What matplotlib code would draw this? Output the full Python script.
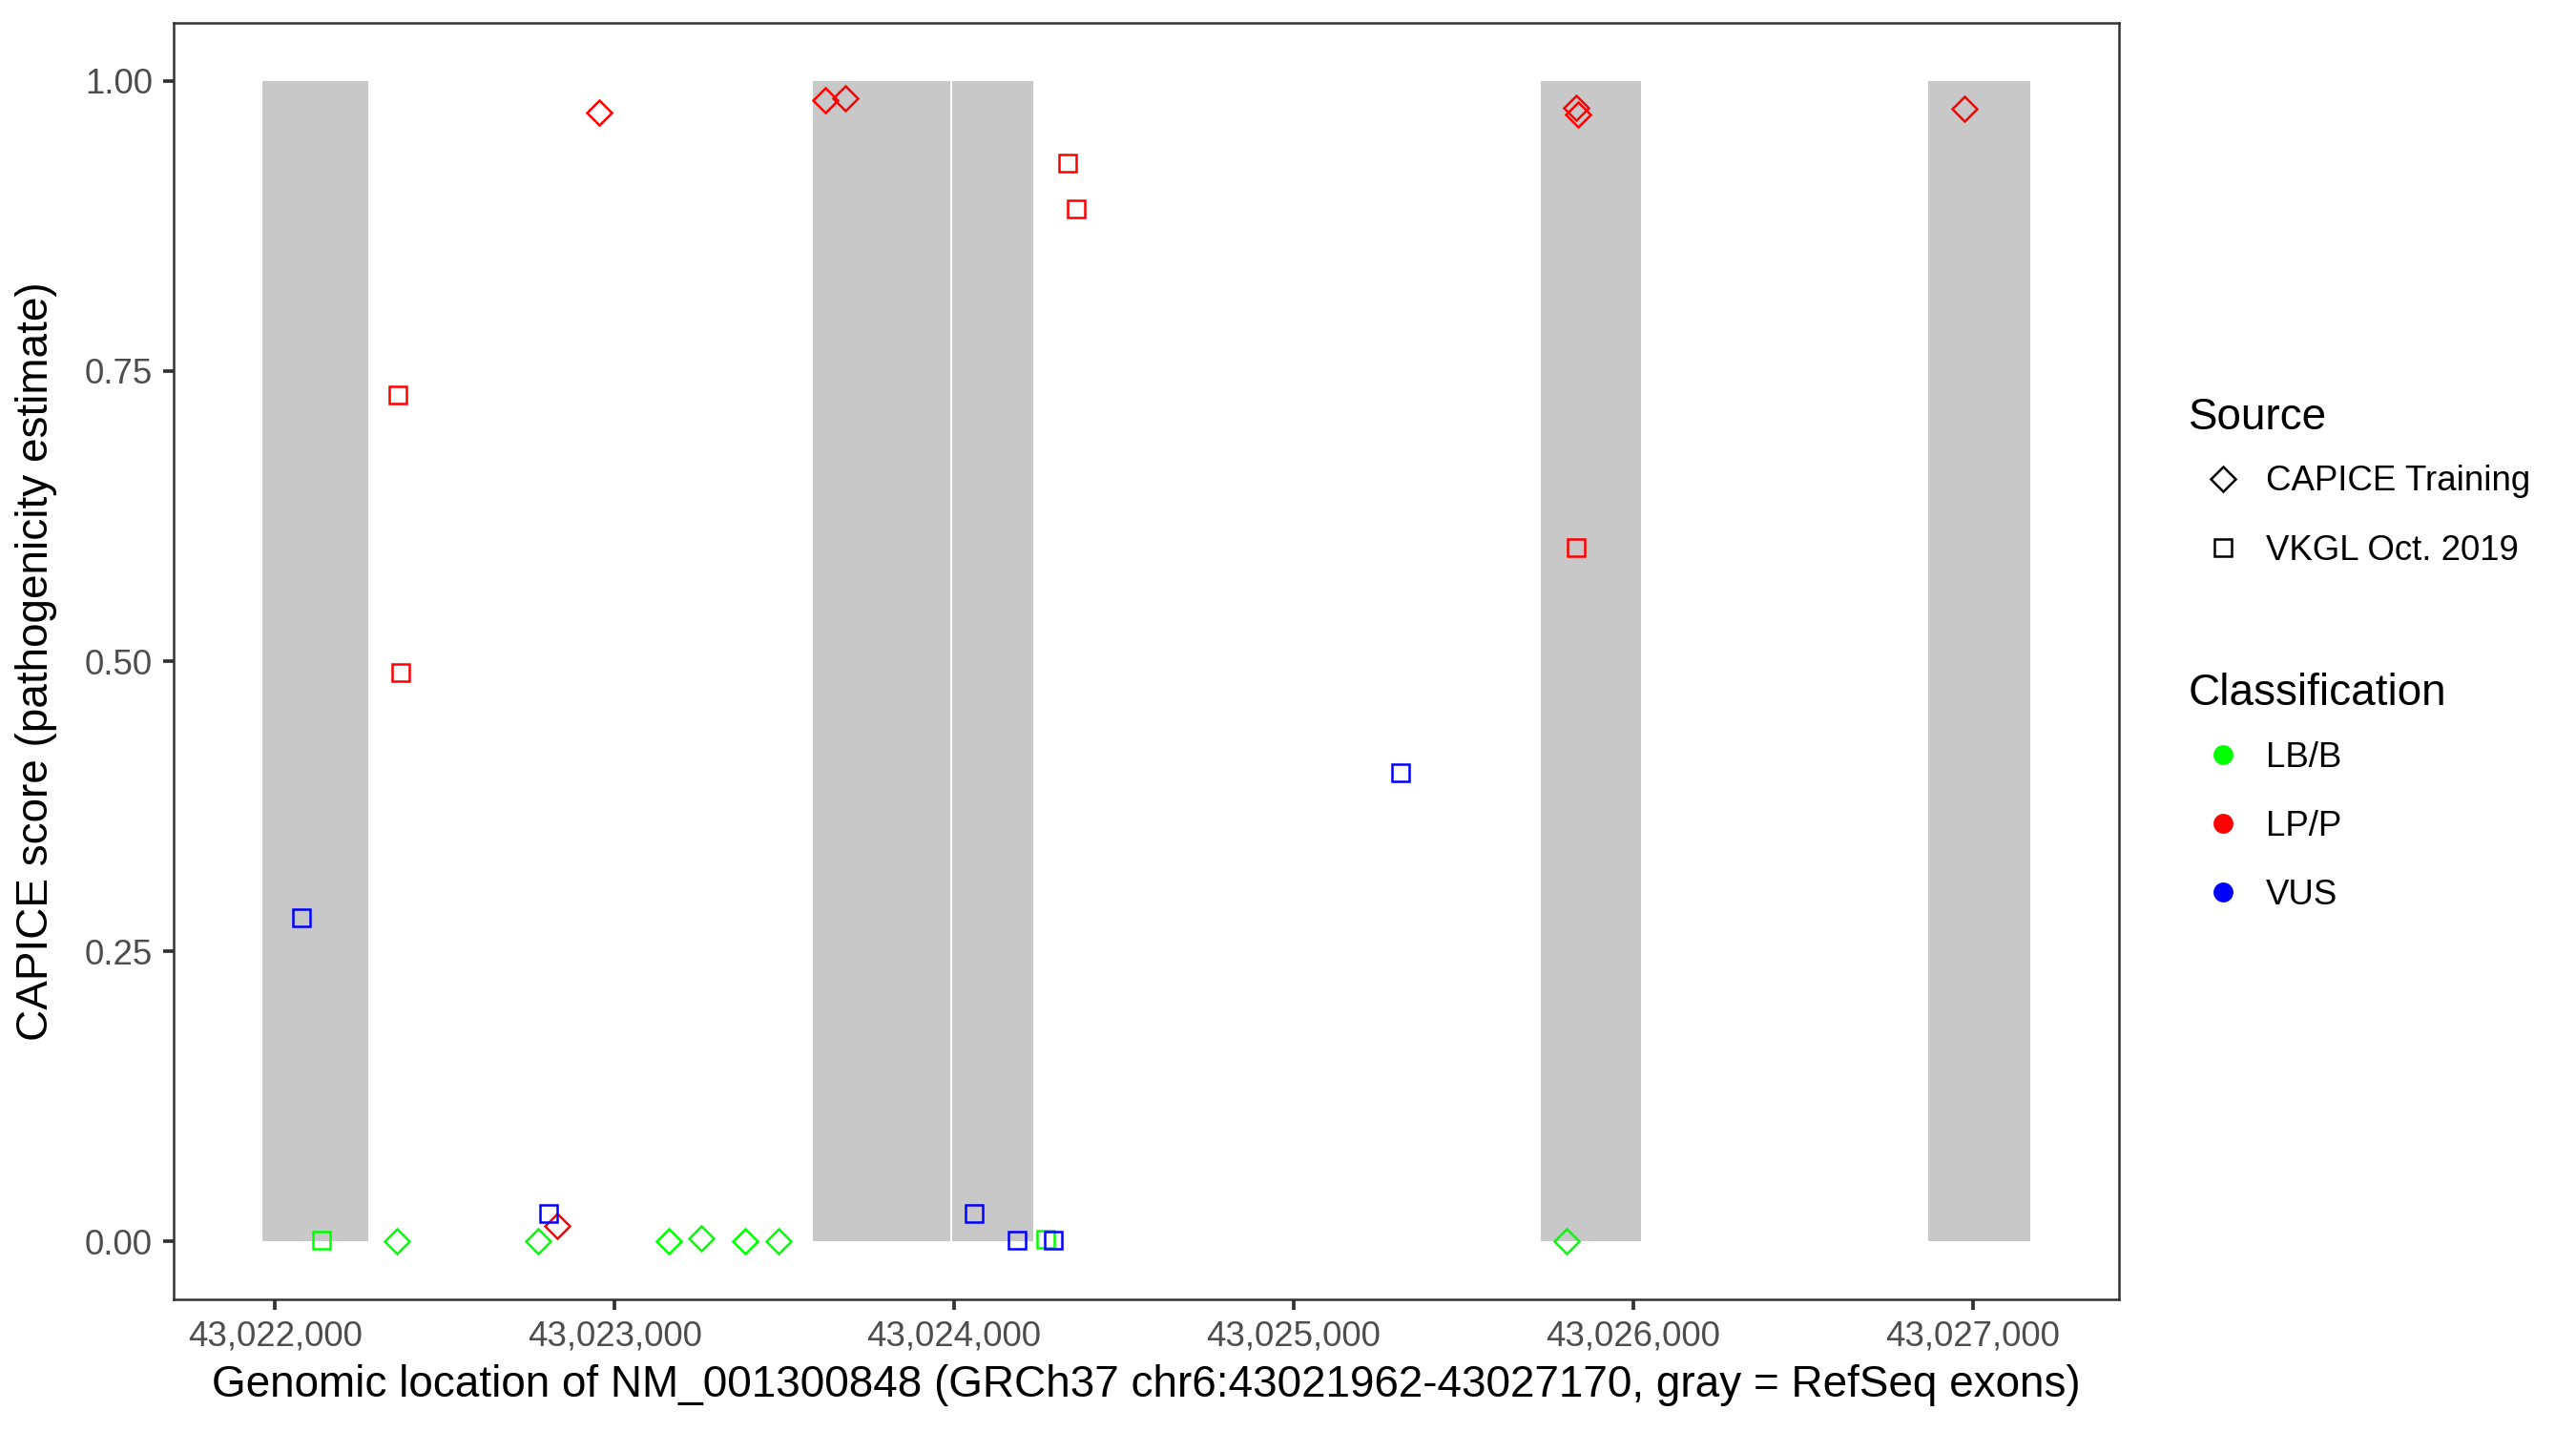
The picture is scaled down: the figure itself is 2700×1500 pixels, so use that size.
import matplotlib
matplotlib.use("Agg")
import matplotlib.pyplot as plt
from matplotlib.lines import Line2D
import numpy as np

plt.rcParams['font.family'] = ['Liberation Sans', 'DejaVu Sans']

# ---------------- data ----------------
gene_start, gene_end = 43021962, 43027170
exon_starts = [43021962, 43023585, 43023994, 43025727, 43026868]
exon_ends   = [43022274, 43023988, 43024233, 43026024, 43027170]

# CAPICE training variants (diamonds)
capice_pos   = [43022359, 43022774, 43023161, 43023255, 43023384, 43023482, 43025805,
                43022830, 43022955, 43023621, 43023680, 43025833, 43025838, 43026974]
capice_score = [0.000, 0.000, 0.000, 0.003, 0.000, 0.000, 0.000,
                0.0135, 0.973, 0.983, 0.985, 0.977, 0.971, 0.976]
capice_class = ['LB/B'] * 7 + ['LP/P'] * 7

# VKGL Oct. 2019 variants (squares)
vkgl_pos   = [43022138, 43024270,
              43022361, 43022369, 43024334, 43024359, 43025833,
              43022079, 43022805, 43024060, 43024184, 43024293, 43025315]
vkgl_score = [0.001, 0.002,
              0.729, 0.490, 0.929, 0.890, 0.598,
              0.279, 0.024, 0.024, 0.001, 0.001, 0.404]
vkgl_class = ['LB/B'] * 2 + ['LP/P'] * 5 + ['VUS'] * 6

classes = ['LB/B', 'LP/P', 'VUS']
class_colors = {'LB/B': '#00FF00', 'LP/P': '#FF0000', 'VUS': '#0000FF'}
sources = ['CAPICE Training', 'VKGL Oct. 2019']
source_markers = {'CAPICE Training': 'D', 'VKGL Oct. 2019': 's'}

x_ticks = [43022000, 43023000, 43024000, 43025000, 43026000, 43027000]
y_ticks = [0.0, 0.25, 0.5, 0.75, 1.0]

# ---------------- figure ----------------
fig = plt.figure(figsize=(9, 5), dpi=300)
ax = fig.add_axes([182 / 2700, 1 - 1362 / 1500, (2221 - 182) / 2700, (1362 - 24) / 1500])

# exons
ax.bar(exon_starts, [1.0] * len(exon_starts),
       width=np.array(exon_ends) - np.array(exon_starts),
       bottom=0, align='edge', color='#c8c8c8', linewidth=0, zorder=1)

ms = 4.3
mew = 0.6
for cls in classes:
    for pos, score, cl, src in [(vkgl_pos, vkgl_score, vkgl_class, 'VKGL Oct. 2019'),
                                (capice_pos, capice_score, capice_class, 'CAPICE Training')]:
        xs = [p for p, c in zip(pos, cl) if c == cls]
        ys = [s for s, c in zip(score, cl) if c == cls]
        if xs:
            ax.plot(xs, ys, linestyle='none', marker=source_markers[src],
                    markersize=ms, markerfacecolor='none',
                    markeredgecolor=class_colors[cls], markeredgewidth=mew, zorder=3)

span = gene_end - gene_start
ax.set_xlim(gene_start - 0.05 * span, gene_end + 0.05 * span)
ax.set_ylim(-0.05, 1.05)
ax.set_xticks(x_ticks)
ax.set_xticklabels([f"{t:,}" for t in x_ticks])
ax.set_yticks(y_ticks)
ax.set_yticklabels([f"{t:.2f}" for t in y_ticks])

for sp in ax.spines.values():
    sp.set_color('#333333')
    sp.set_linewidth(0.6)
ax.tick_params(axis='both', direction='out', length=2.75, width=0.9,
               color='#333333', labelcolor='#4D4D4D', labelsize=8.8, pad=2.5)

ax.set_xlabel('Genomic location of NM_001300848 (GRCh37 chr6:43021962-43027170, gray = RefSeq exons)',
              fontsize=11, color='black', va='center')
ax.xaxis.set_label_coords(0.5, -0.0673)
ax.set_ylabel('CAPICE score (pathogenicity estimate)', fontsize=11, color='black', va='center')
ax.yaxis.set_label_coords(-0.0706, 0.5)

# ---------------- legends ----------------
src_handles = [Line2D([], [], linestyle='none', marker=source_markers[s], markersize=ms,
                      markerfacecolor='none', markeredgecolor='black', markeredgewidth=mew)
               for s in sources]
cls_handles = [Line2D([], [], linestyle='none', marker='o', markersize=5.0,
                      markerfacecolor=class_colors[c], markeredgecolor=class_colors[c],
                      markeredgewidth=0)
               for c in classes]

common = dict(frameon=False, loc='upper left', borderaxespad=0, borderpad=0,
              handlelength=1.96, handletextpad=0.25, labelspacing=1.01,
              fontsize=8.8, title_fontsize=11, alignment='left', numpoints=1)
leg1 = fig.legend(src_handles, sources, title='Source',
                  bbox_to_anchor=(2294 / 2700, 1 - 416 / 1500), **common)
leg2 = fig.legend(cls_handles, classes, title='Classification',
                  bbox_to_anchor=(2294 / 2700, 1 - 705 / 1500), **common)
for leg in (leg1, leg2):
    leg._legend_box.sep = 6.6  # gap between title and first entry (points)

fig.savefig('out.png', dpi=300, facecolor='white')
